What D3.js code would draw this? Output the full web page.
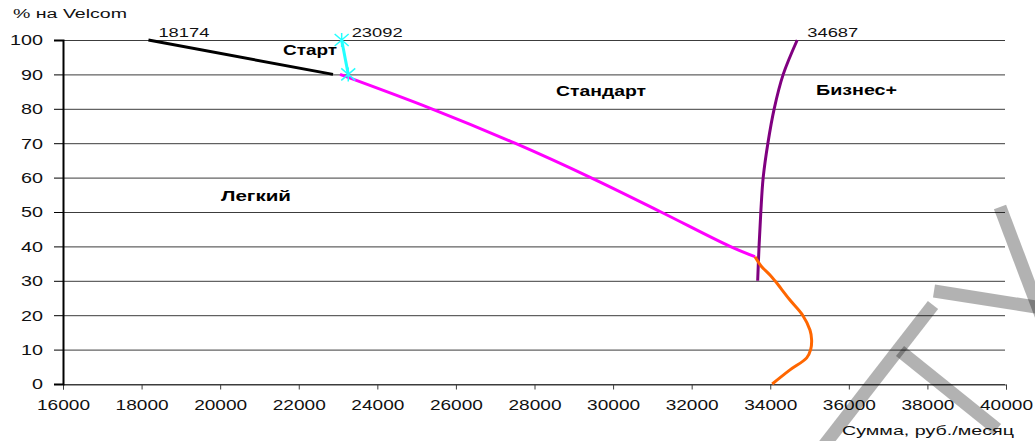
<!DOCTYPE html>
<html>
<head>
<meta charset="utf-8">
<script src="https://cdn.jsdelivr.net/npm/d3@7"></script>
<style>
  body { margin: 0; background: #fff; }
  svg { display: block; font-family: "Liberation Sans", Arial, sans-serif; }
</style>
</head>
<body>
<div id="chart"></div>
<script>
// Axis ticks
const xTicks = [16000, 18000, 20000, 22000, 24000, 26000, 28000, 30000, 32000, 34000, 36000, 38000, 40000];
const yTicks = [0, 10, 20, 30, 40, 50, 60, 70, 80, 90, 100];

// Series (x = сумма, y = % на Velcom)
const legkiyX = [18174, 22872];
const legkiyY = [100, 90];

const startX = [23092, 23260];
const startY = [100, 90];

const standardX = [23050, 25383, 27503, 29430, 31219, 32975, 33611];
const standardY = [90, 80, 70, 60, 50, 40, 37];

const orangeX = [33611, 33782, 33993, 34120, 34502, 34825, 35011, 35053, 35028, 34927, 34502, 34050];
const orangeY = [37, 34.1, 31.7, 30, 24.4, 20, 15.7, 12.8, 10, 7.6, 4.1, 0];

const biznesX = [33680, 33715, 33760, 33820, 33940, 34100, 34330, 34687];
const biznesY = [30, 40, 50, 60, 70, 80, 90, 100];

// Data labels on the top points
const topLabels = [
  { x: 18174, y: 100, text: '18174' },
  { x: 23092, y: 100, text: '23092' },
  { x: 34687, y: 100, text: '34687' }
];

const width = 1035, height = 441;
const plot = { left: 63, right: 1006, top: 40, bottom: 384 };

const svg = d3.select('#chart').append('svg')
  .attr('width', width)
  .attr('height', height);

const xScale = d3.scaleLinear().domain([16000, 40000]).range([plot.left, plot.right]);
const yScale = d3.scaleLinear().domain([0, 100]).range([plot.bottom, plot.top]);

// Gridlines
svg.append('g').selectAll('line')
  .data(yTicks)
  .join('line')
  .attr('x1', plot.left)
  .attr('x2', plot.right - 1)
  .attr('y1', d => yScale(d) + 0.5)
  .attr('y2', d => yScale(d) + 0.5)
  .attr('stroke', '#3c3c3c')
  .attr('stroke-width', 1);

// X axis
const xAxis = svg.append('g')
  .attr('transform', `translate(0, ${plot.bottom + 0.5})`)
  .call(d3.axisBottom(xScale).tickValues(xTicks).tickSize(5).tickPadding(10).tickFormat(d3.format('d')));
xAxis.select('.domain').attr('stroke', '#3c3c3c');
xAxis.selectAll('.tick line').attr('stroke', '#3c3c3c');
xAxis.selectAll('.tick text')
  .attr('font-size', 15)
  .attr('fill', '#111')
  .attr('textLength', 53)
  .attr('lengthAdjust', 'spacingAndGlyphs');

// Y axis
const yAxis = svg.append('g')
  .attr('transform', `translate(${plot.left}, 0)`)
  .call(d3.axisLeft(yScale).tickValues(yTicks).tickSize(9).tickPadding(11));
yAxis.select('.domain').attr('stroke', '#000').attr('stroke-width', 2);
yAxis.selectAll('.tick line').attr('stroke', '#000');
yAxis.selectAll('.tick text')
  .attr('font-size', 15)
  .attr('fill', '#111')
  .attr('textLength', d => String(d).length * 11)
  .attr('lengthAdjust', 'spacingAndGlyphs');

// Lines
const line = d3.line()
  .x(d => xScale(d[0]))
  .y(d => yScale(d[1]));

const series = [
  { xs: legkiyX, ys: legkiyY, color: '#000000', w: 3, curve: d3.curveLinear },
  { xs: startX, ys: startY, color: '#22ffff', w: 3, curve: d3.curveLinear },
  { xs: standardX, ys: standardY, color: '#ff00ff', w: 3, curve: d3.curveCatmullRom },
  { xs: biznesX, ys: biznesY, color: '#800080', w: 3, curve: d3.curveCatmullRom },
  { xs: orangeX, ys: orangeY, color: '#ff6600', w: 3, curve: d3.curveCatmullRom }
];

series.forEach(s => {
  const pts = s.xs.map((x, i) => [x, s.ys[i]]);
  svg.append('path')
    .datum(pts)
    .attr('fill', 'none')
    .attr('stroke', s.color)
    .attr('stroke-width', s.w)
    .attr('d', line.curve(s.curve));
});

// Star markers on "Старт"
svg.append('g').selectAll('path')
  .data(startX.map((x, i) => [x, startY[i]]))
  .join('path')
  .attr('transform', d => `translate(${xScale(d[0])},${yScale(d[1])})`)
  .attr('d', 'M-7,-6L7,6M-7,6L7,-6M0,-7L0,7')
  .attr('stroke', '#22ffff')
  .attr('stroke-width', 1.5)
  .attr('fill', 'none');

// Data labels
svg.append('g').selectAll('text')
  .data(topLabels)
  .join('text')
  .attr('x', d => xScale(d.x) + 10)
  .attr('y', d => yScale(d.y) - 3)
  .attr('font-size', 13)
  .attr('fill', '#111')
  .attr('textLength', 51)
  .attr('lengthAdjust', 'spacingAndGlyphs')
  .text(d => d.text);

// Tariff names
const names = [
  { text: 'Старт', x: 283, y: 55, len: 54 },
  { text: 'Стандарт', x: 556, y: 96, len: 90 },
  { text: 'Бизнес+', x: 816, y: 95, len: 81 },
  { text: 'Легкий', x: 221, y: 201, len: 70 }
];
svg.append('g').selectAll('text')
  .data(names)
  .join('text')
  .attr('x', d => d.x)
  .attr('y', d => d.y)
  .attr('font-size', 14)
  .attr('font-weight', 'bold')
  .attr('fill', '#000')
  .attr('textLength', d => d.len)
  .attr('lengthAdjust', 'spacingAndGlyphs')
  .text(d => d.text);

// Axis titles
svg.append('text')
  .attr('x', 13)
  .attr('y', 18)
  .attr('font-size', 12)
  .attr('fill', '#111')
  .attr('textLength', 114)
  .attr('lengthAdjust', 'spacingAndGlyphs')
  .text('% на Velcom');

svg.append('text')
  .attr('x', 842)
  .attr('y', 435)
  .attr('font-size', 13)
  .attr('fill', '#111')
  .attr('textLength', 172)
  .attr('lengthAdjust', 'spacingAndGlyphs')
  .text('Сумма, руб./месяц');

// Grey watermark strokes in the lower right corner
const mark = svg.append('g')
  .attr('stroke', '#000')
  .attr('stroke-opacity', 0.3)
  .attr('stroke-width', 13)
  .attr('fill', 'none');
mark.append('path').attr('d', 'M1000,207L1042,318');
mark.append('path').attr('d', 'M934,291L1042,308');
mark.append('path').attr('d', 'M933,305L822,448');
mark.append('path').attr('d', 'M900,351L997,429');
</script>
</body>
</html>
